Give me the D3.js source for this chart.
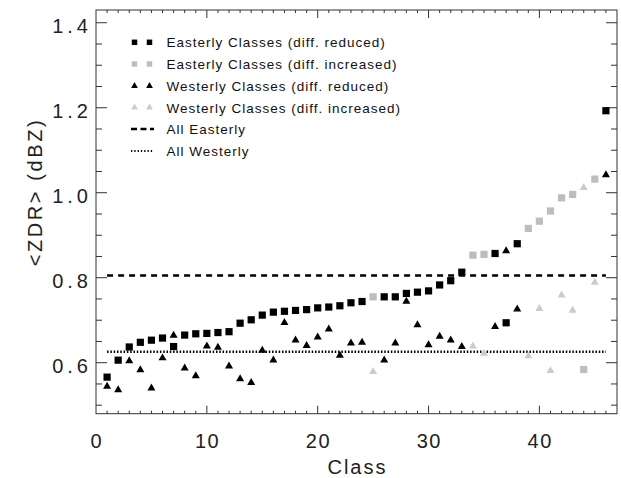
<!DOCTYPE html>
<html><head><meta charset="utf-8">
<script src="https://d3js.org/d3.v7.min.js"></script>
<style>body{margin:0;background:#fff}svg{display:block}</style>
</head><body>
<svg id="c" width="621" height="478"></svg>
<script>
const classes = [1,2,3,4,5,6,7,8,9,10,11,12,13,14,15,16,17,18,19,20,21,22,23,24,25,26,27,28,29,30,31,32,33,34,35,36,37,38,39,40,41,42,43,44,45,46];
const easterly = [0.566,0.606,0.637,0.648,0.653,0.658,0.638,0.665,0.668,0.669,0.671,0.673,0.693,0.701,0.712,0.719,0.721,0.723,0.725,0.729,0.731,0.734,0.741,0.744,0.755,0.755,0.755,0.763,0.766,0.769,0.783,0.793,0.813,0.853,0.855,0.857,0.694,0.880,0.916,0.933,0.957,0.988,0.996,0.584,1.032,1.193];
const westerly = [0.544,0.536,0.604,0.583,0.540,0.611,0.664,0.587,0.569,0.639,0.636,0.592,0.562,0.553,0.629,0.606,0.694,0.653,0.640,0.660,0.679,0.617,0.646,0.648,0.579,0.606,0.646,0.744,0.689,0.642,0.662,0.653,0.638,0.639,0.622,0.685,0.863,0.726,0.616,0.727,0.581,0.759,0.723,1.012,0.789,1.042];
const increasedClasses = [25,34,35,39,40,41,42,43,44,45];
const allEasterly = 0.805;
const allWesterly = 0.626;
const xTicks = [0,10,20,30,40];
const yTicks = [0.6,0.8,1.0,1.2,1.4];
const legendLabels = ["Easterly Classes (diff. reduced)","Easterly Classes (diff. increased)","Westerly Classes (diff. reduced)","Westerly Classes (diff. increased)","All Easterly","All Westerly"];

const svg = d3.select("#c");
const L=96, R=617, T=10, B=413.7;
const x = d3.scaleLinear().domain([0,47]).range([L,R]);
const y = d3.scaleLinear().domain([0.48,1.43]).range([B,T]);
const axisCol = "#333";
const font = "'Liberation Sans', Arial, sans-serif";
const BLACK="#000", GRAY_SQ="#bdbdbd", GRAY_TRI="#cccccc";

// frame
svg.append("rect").attr("x",L).attr("y",T).attr("width",R-L).attr("height",B-T)
  .attr("fill","none").attr("stroke",axisCol).attr("stroke-width",1);

// x ticks (bottom & top)
const xMinor = d3.range(1,47);
const g = svg.append("g").attr("stroke",axisCol).attr("stroke-width",1);
xMinor.forEach(v=>{
  const isMajor = v%10===0;
  const len = isMajor?8:3;
  g.append("line").attr("x1",x(v)).attr("x2",x(v)).attr("y1",B).attr("y2",B-len);
  g.append("line").attr("x1",x(v)).attr("x2",x(v)).attr("y1",T).attr("y2",T+len);
});
// y ticks (left & right)
const yMinorVals = d3.range(0.5,1.42,0.05).map(v=>+v.toFixed(2));
yMinorVals.forEach(v=>{
  const isMajor = yTicks.some(t=>Math.abs(t-v)<1e-6);
  const len = isMajor?11:6;
  g.append("line").attr("x1",L).attr("x2",L+len).attr("y1",y(v)).attr("y2",y(v));
  g.append("line").attr("x1",R).attr("x2",R-len).attr("y1",y(v)).attr("y2",y(v));
});
// tick labels
xTicks.forEach(v=>{
  svg.append("text").attr("x",x(v)+0.75).attr("y",448).attr("text-anchor","middle")
    .attr("font-family",font).attr("font-size",20).attr("letter-spacing",1.5).attr("fill","#222").text(v);
});
yTicks.forEach(v=>{
  svg.append("text").attr("x",92).attr("y",y(v)+10).attr("text-anchor","end")
    .attr("font-family",font).attr("font-size",20).attr("letter-spacing",4).attr("fill","#222").text(v.toFixed(1));
});
svg.append("text").attr("x",(L+R)/2+1).attr("y",474).attr("text-anchor","middle")
  .attr("font-family",font).attr("font-size",20).attr("letter-spacing",2).attr("fill","#222").text("Class");
svg.append("text").attr("transform",`translate(42,192) rotate(-90)`).attr("text-anchor","middle")
  .attr("font-family",font).attr("font-size",20).attr("letter-spacing",2.6).attr("fill","#222").text("<ZDR> (dBZ)");

// reference lines
svg.append("line").attr("x1",x(1)).attr("x2",x(46)).attr("y1",y(allEasterly)).attr("y2",y(allEasterly))
  .attr("stroke","#000").attr("stroke-width",2.5).attr("stroke-dasharray","6,5");
svg.append("line").attr("x1",x(1)).attr("x2",x(46)).attr("y1",y(allWesterly)).attr("y2",y(allWesterly))
  .attr("stroke","#000").attr("stroke-width",2.5).attr("stroke-dasharray","1.5,1.8");

const sq = d3.symbol().type(d3.symbolSquare).size(52);
const tri = d3.symbol().type(d3.symbolTriangle).size(28);
const isInc = c => increasedClasses.includes(c);

svg.append("g").selectAll("path").data(classes).join("path")
  .attr("d",sq).attr("transform",(c,i)=>`translate(${x(c)},${y(easterly[i])})`)
  .attr("fill",c=>isInc(c)?GRAY_SQ:BLACK);
svg.append("g").selectAll("path").data(classes).join("path")
  .attr("d",tri).attr("transform",(c,i)=>`translate(${x(c)},${y(westerly[i])})`)
  .attr("fill",c=>isInc(c)?GRAY_TRI:BLACK);

// legend
const lg = svg.append("g");
const rowY = [42.3,64,86,107.5,129,151];
const lsq = d3.symbol().type(d3.symbolSquare).size(30);
const ltri = d3.symbol().type(d3.symbolTriangle).size(20);
const mk = [{s:lsq,c:BLACK},{s:lsq,c:GRAY_SQ},{s:ltri,c:BLACK},{s:ltri,c:GRAY_TRI}];
mk.forEach((m,i)=>{
  [134.5,149.5].forEach(px=>{
    lg.append("path").attr("d",m.s).attr("transform",`translate(${px},${rowY[i]})`).attr("fill",m.c);
  });
});
lg.append("line").attr("x1",131).attr("x2",154).attr("y1",rowY[4]).attr("y2",rowY[4])
  .attr("stroke","#000").attr("stroke-width",2.5).attr("stroke-dasharray","6,3.5");
lg.append("line").attr("x1",131).attr("x2",154).attr("y1",rowY[5]).attr("y2",rowY[5])
  .attr("stroke","#000").attr("stroke-width",2).attr("stroke-dasharray","1.3,2");
legendLabels.forEach((t,i)=>{
  lg.append("text").attr("x",166.5).attr("y",rowY[i]+5).attr("font-family",font)
    .attr("font-size",13.5).attr("letter-spacing",1).attr("fill","#111").text(t);
});
</script>
</body></html>
